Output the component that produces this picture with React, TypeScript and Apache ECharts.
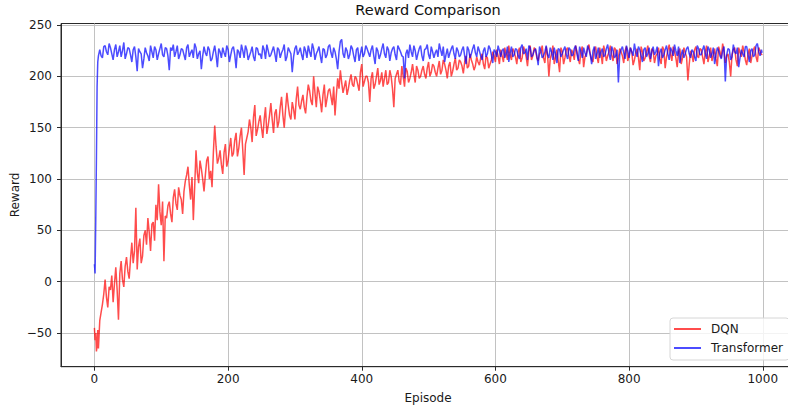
import React, { useEffect, useRef } from "react";
import * as echarts from "echarts";

const FONT = "DejaVu Sans";
const TEXT_COLOR = "#1a1a1a";

const TITLE = "Reward Comparison";
const X_LABEL = "Episode";
const Y_LABEL = "Reward";
const SERIES_NAMES = ["DQN", "Transformer"];

const X_TICKS = [0, 200, 400, 600, 800, 1000];
const Y_TICKS = [-50, 0, 50, 100, 150, 200, 250];

// sampling grid: every episode at the start, then every 2nd episode, then the last one
const EARLY_EPISODES = [0, 1, 2, 3, 4, 5, 6];
const STEP_START = 8;
const STEP_END = 998;
const STEP = 2;
const LAST_EPISODE = 999;

const DQN_REWARDS = [
  // 0..6
  -45, -57, -50, -68, -62, -47, -65,
  // 8..106
  -38, -30, -22, -12, 2, -15, -25, -5, -8, 6, -20, -2, 14, -8, -37, 8, 20, 2, -5, 15, 24, 10, 3, 22, 38,
  18, 30, 72, 12, 34, 42, 18, 25, 45, 50, 36, 62, 48, 30, 56, 58, 40, 75, 60, 95, 68, 55, 78, 20, 64,
  // 108..206
  62, 74, 78, 66, 58, 82, 90, 76, 70, 92, 84, 80, 66, 88, 98, 104, 112, 94, 80, 102, 60, 92, 128, 106, 96,
  118, 110, 100, 88, 104, 118, 122, 100, 108, 92, 126, 152, 132, 115, 120, 128, 114, 105, 126, 134, 112, 118, 130, 140, 122,
  // 208..306
  125, 138, 145, 122, 130, 142, 150, 128, 104, 134, 140, 146, 158, 150, 136, 160, 172, 142, 148, 156, 162, 150, 140, 158, 170,
  144, 152, 162, 174, 158, 145, 164, 168, 150, 156, 170, 180, 162, 150, 168, 184, 172, 162, 158, 175, 168, 158, 178, 190, 172,
  // 308..406
  168, 176, 182, 170, 164, 180, 192, 186, 176, 172, 200, 184, 170, 190, 185, 176, 165, 182, 192, 170, 178, 186, 188, 180, 172,
  190, 162, 182, 198, 188, 206, 194, 184, 190, 196, 182, 188, 196, 202, 192, 190, 200, 198, 192, 186, 204, 212, 190, 195, 200,
  // 408..506
  200, 194, 175, 198, 204, 188, 192, 200, 208, 192, 196, 204, 190, 198, 206, 192, 194, 206, 200, 188, 170, 198, 202, 206, 195,
  192, 210, 200, 190, 208, 205, 194, 198, 204, 212, 202, 194, 210, 206, 198, 200, 206, 210, 202, 198, 208, 214, 200, 204, 212,
  // 508..606
  210, 204, 200, 208, 215, 202, 206, 216, 212, 206, 198, 210, 214, 200, 205, 212, 218, 206, 208, 216, 214, 210, 203, 214, 220,
  208, 210, 222, 216, 212, 206, 210, 219, 214, 211, 218, 222, 212, 207, 220, 218, 208, 212, 216, 224, 220, 214, 226, 220, 212,
  // 608..706
  226, 220, 214, 228, 222, 216, 230, 221, 216, 227, 224, 219, 212, 224, 228, 214, 218, 229, 225, 219, 210, 224, 230, 216, 220,
  228, 226, 218, 215, 222, 224, 230, 218, 213, 229, 221, 200, 217, 222, 230, 212, 219, 226, 215, 204, 228, 224, 212, 218, 226,
  // 708..806
  228, 220, 214, 226, 223, 216, 230, 224, 217, 212, 225, 229, 209, 219, 222, 227, 231, 221, 216, 214, 226, 229, 219, 213, 228,
  222, 212, 230, 224, 215, 220, 224, 230, 221, 215, 228, 226, 212, 218, 227, 224, 220, 213, 225, 229, 215, 220, 228, 224, 211,
  // 808..906
  216, 223, 227, 218, 206, 229, 224, 215, 218, 224, 230, 220, 214, 227, 225, 213, 220, 222, 228, 217, 212, 229, 226, 208, 219,
  225, 231, 222, 215, 229, 224, 218, 209, 224, 227, 212, 218, 228, 223, 219, 196, 212, 225, 221, 214, 226, 229, 220, 218, 227,
  // 908..998
  226, 219, 212, 224, 230, 214, 220, 228, 215, 221, 227, 217, 210, 229, 224, 218, 232, 225, 213, 220, 222, 214, 200, 221,
  226, 228, 216, 210, 228, 223, 219, 230, 224, 216, 211, 222, 227, 213, 220, 226, 229, 219, 214, 228, 225, 221,
  // 999
  222,
];

const TRANSFORMER_REWARDS = [
  // 0..6
  17, 8, 60, 120, 190, 214, 220,
  // 8..106
  226, 220, 218, 229, 230, 224, 221, 232, 228, 222, 216, 226, 231, 219, 224, 230, 219, 225, 233, 217, 222, 228, 227, 221, 214,
  226, 229, 219, 205, 227, 224, 222, 208, 217, 228, 223, 220, 215, 230, 224, 218, 229, 226, 216, 222, 227, 232, 221, 219, 228,
  // 108..206
  227, 220, 206, 228, 225, 231, 219, 224, 230, 217, 221, 227, 226, 221, 216, 228, 231, 219, 223, 226, 218, 232, 228, 217, 222,
  225, 207, 220, 229, 223, 220, 229, 226, 215, 217, 224, 230, 221, 209, 227, 224, 218, 228, 223, 219, 230, 226, 214, 221, 227,
  // 208..306
  229, 221, 208, 226, 224, 218, 231, 225, 218, 230, 226, 216, 220, 224, 229, 219, 215, 228, 227, 221, 222, 217, 230, 226, 217,
  231, 225, 219, 221, 225, 229, 222, 214, 228, 226, 218, 223, 226, 231, 215, 219, 228, 225, 222, 204, 219, 227, 230, 221, 224,
  // 308..406
  228, 221, 216, 229, 225, 218, 230, 224, 219, 232, 227, 216, 222, 225, 229, 220, 213, 227, 226, 218, 221, 229, 231, 223, 218,
  228, 224, 217, 207, 224, 234, 236, 222, 218, 228, 225, 217, 221, 230, 227, 220, 214, 226, 228, 215, 222, 229, 219, 222, 230,
  // 408..506
  227, 223, 219, 226, 230, 220, 212, 228, 225, 217, 221, 227, 232, 222, 218, 229, 226, 215, 223, 227, 229, 221, 216, 230, 227,
  224, 220, 219, 198, 222, 226, 218, 231, 224, 219, 230, 225, 216, 222, 227, 230, 220, 215, 226, 227, 231, 221, 217, 229, 224,
  // 508..606
  218, 223, 226, 219, 232, 226, 220, 229, 214, 221, 227, 218, 223, 227, 230, 222, 217, 228, 225, 219, 221, 226, 229, 220, 212,
  229, 226, 218, 222, 227, 231, 223, 219, 229, 225, 220, 216, 225, 228, 219, 222, 230, 227, 221, 213, 226, 224, 219, 230, 225,
  // 608..706
  219, 225, 227, 218, 222, 229, 214, 223, 229, 219, 221, 227, 226, 220, 217, 228, 231, 222, 223, 227, 216, 230, 228, 219, 221,
  225, 227, 220, 211, 229, 225, 218, 220, 224, 230, 221, 218, 228, 224, 216, 228, 222, 213, 227, 226, 219, 222, 226, 229, 221,
  // 708..806
  217, 228, 226, 220, 221, 227, 230, 222, 215, 229, 224, 218, 228, 223, 219, 230, 226, 221, 212, 225, 229, 217, 222, 228, 218,
  224, 227, 219, 221, 227, 231, 222, 216, 229, 225, 218, 220, 226, 194, 221, 226, 229, 223, 217, 230, 225, 218, 228, 224, 220,
  // 808..906
  232, 224, 219, 229, 226, 220, 214, 226, 228, 219, 222, 228, 217, 224, 229, 221, 224, 229, 210, 223, 227, 218, 221, 226, 230,
  222, 216, 228, 225, 220, 231, 225, 220, 229, 213, 221, 226, 218, 222, 227, 229, 222, 218, 226, 224, 219, 215, 230, 227, 221,
  // 908..998
  221, 226, 230, 222, 217, 229, 226, 218, 222, 228, 212, 221, 228, 225, 220, 217, 225, 229, 195, 221, 227, 226, 216, 219,
  231, 224, 222, 228, 209, 218, 226, 222, 219, 229, 229, 221, 214, 225, 227, 219, 221, 230, 232, 224, 220, 226,
  // 999
  223,
];

function buildEpisodes(): number[] {
  const eps = [...EARLY_EPISODES];
  for (let e = STEP_START; e <= STEP_END; e += STEP) eps.push(e);
  eps.push(LAST_EPISODE);
  return eps;
}

function pairs(episodes: number[], values: number[]) {
  const n = Math.min(episodes.length, values.length);
  const out: number[][] = [];
  for (let i = 0; i < n; i++) out.push([episodes[i], values[i]]);
  return out;
}

const fmtNum = (v: number) => (v < 0 ? "\u2212" + Math.abs(v) : String(v));

export default function App() {
  const ref = useRef<HTMLDivElement>(null);

  useEffect(() => {
    if (!ref.current) return;
    const chart = echarts.init(ref.current, undefined, { renderer: "svg" });
    const episodes = buildEpisodes();
    const red = "rgba(255,0,0,0.7)";
    const blue = "rgba(0,0,255,0.7)";
    const labelStyle = { fontSize: 12, fontFamily: FONT, color: TEXT_COLOR };

    chart.setOption({
      animation: false,
      backgroundColor: "#ffffff",
      textStyle: { fontFamily: FONT },
      grid: {
        left: 61,
        top: 23.5,
        right: 14.5,
        bottom: 44.3,
        show: true,
        borderColor: "#2a2a2a",
        borderWidth: 1,
        backgroundColor: "transparent",
      },
      xAxis: {
        type: "value",
        min: -50,
        max: 1049,
        minInterval: 200,
        maxInterval: 200,
        axisLine: { show: true, onZero: false, lineStyle: { color: "#2a2a2a", width: 1 } },
        axisTick: { show: true, length: 4, customValues: X_TICKS, lineStyle: { color: "#2a2a2a" } },
        axisLabel: { ...labelStyle, margin: 6, customValues: X_TICKS, formatter: (v: number) => fmtNum(v) },
        splitLine: { show: true, lineStyle: { color: "#c2c2c2", width: 1 } },
      },
      yAxis: {
        type: "value",
        min: -82.8,
        max: 251.5,
        minInterval: 50,
        maxInterval: 50,
        axisLine: { show: true, onZero: false, lineStyle: { color: "#2a2a2a", width: 1 } },
        axisTick: { show: true, length: 4, customValues: Y_TICKS, lineStyle: { color: "#2a2a2a" } },
        axisLabel: { ...labelStyle, margin: 9, customValues: Y_TICKS, formatter: (v: number) => fmtNum(v) },
        splitLine: { show: true, lineStyle: { color: "#c2c2c2", width: 1 } },
      },
      legend: {
        orient: "vertical",
        left: 670,
        top: 318,
        icon: "rect",
        itemWidth: 27,
        itemHeight: 2,
        itemGap: 5,
        padding: [4, 6, 5, 4],
        backgroundColor: "rgba(255,255,255,0.8)",
        borderColor: "#d6d6d6",
        borderWidth: 1,
        borderRadius: 3,
        selectedMode: false,
        textStyle: { fontSize: 12, fontFamily: FONT, color: TEXT_COLOR, lineHeight: 14, padding: [0, 0, 0, 5] },
        data: SERIES_NAMES,
      },
      graphic: [
        {
          type: "text",
          x: 428,
          y: 10,
          silent: true,
          style: {
            text: TITLE,
            fontSize: 14.5,
            fontWeight: "normal",
            fontFamily: FONT,
            fill: "#111",
            align: "center",
            verticalAlign: "middle",
          },
        },
        {
          type: "text",
          x: 428,
          y: 398,
          silent: true,
          style: { text: X_LABEL, fontSize: 12, fontFamily: FONT, fill: TEXT_COLOR, align: "center", verticalAlign: "middle" },
        },
        {
          type: "text",
          x: 15,
          y: 195,
          rotation: Math.PI / 2,
          silent: true,
          style: { text: Y_LABEL, fontSize: 12, fontFamily: FONT, fill: TEXT_COLOR, align: "center", verticalAlign: "middle" },
        },
      ],
      series: [
        {
          name: SERIES_NAMES[0],
          type: "line",
          data: pairs(episodes, DQN_REWARDS),
          showSymbol: false,
          symbol: "none",
          silent: true,
          color: red,
          lineStyle: { color: red, width: 1.5 },
          emphasis: { disabled: true },
          z: 2,
        },
        {
          name: SERIES_NAMES[1],
          type: "line",
          data: pairs(episodes, TRANSFORMER_REWARDS),
          showSymbol: false,
          symbol: "none",
          silent: true,
          color: blue,
          lineStyle: { color: blue, width: 1.5 },
          emphasis: { disabled: true },
          z: 3,
        },
      ],
    });

    return () => chart.dispose();
  }, []);

  return (
    <div
      style={{
        position: "fixed",
        left: 0,
        top: 0,
        width: 788,
        height: 411,
        overflow: "hidden",
        background: "#fff",
      }}
    >
      <div ref={ref} style={{ width: 810, height: 411 }} />
    </div>
  );
}
